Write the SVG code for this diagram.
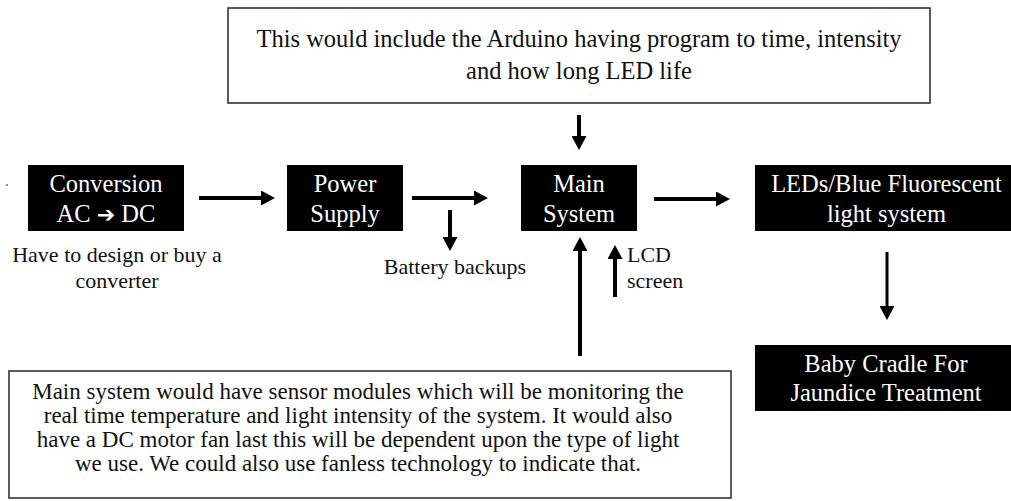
<svg xmlns="http://www.w3.org/2000/svg" width="1011" height="501" viewBox="0 0 1011 501">
<style>
  .blk { fill: #000; }
  .wbox { fill: #fff; stroke: #333; stroke-width: 1.6; }
  .lbl { font-family: "Liberation Serif", "Times New Roman", serif; font-size: 24.5px; fill: #fff; text-anchor: middle; }
  .note { font-family: "Liberation Serif", "Times New Roman", serif; font-size: 22px; fill: #111; text-anchor: middle; }
  .top { font-family: "Liberation Serif", "Times New Roman", serif; font-size: 24.5px; fill: #111; text-anchor: middle; }
  .bot { font-family: "Liberation Serif", "Times New Roman", serif; font-size: 23px; fill: #111; text-anchor: middle; }
  .sym { font-family: "DejaVu Sans", sans-serif; font-size: 22px; font-weight: bold; }
  .arr { stroke: #000; stroke-width: 4; fill: none; marker-end: url(#ah); }
  .arr2 { stroke: #000; stroke-width: 3; fill: none; marker-end: url(#ah); }
</style>
<defs>
  <marker id="ah" markerUnits="userSpaceOnUse" markerWidth="14" markerHeight="15" refX="1" refY="7.5" orient="auto">
    <path d="M0,0 L14,7.5 L0,15 z" fill="#000"/>
  </marker>
</defs>
<rect width="1011" height="501" fill="#fff"/>
<circle cx="7" cy="185" r="1" fill="#666"/>

<g id="connectors">
  <line class="arr" x1="199" y1="198" x2="262" y2="198"/>
  <line class="arr" x1="412" y1="198" x2="475" y2="198"/>
  <line class="arr" x1="450" y1="210" x2="450" y2="238"/>
  <line class="arr" x1="654" y1="199" x2="717" y2="199"/>
  <line class="arr" x1="579" y1="115" x2="579" y2="137"/>
  <line class="arr" x1="580" y1="356" x2="580" y2="250"/>
  <line class="arr" x1="615" y1="297" x2="615" y2="258"/>
  <line class="arr2" x1="887" y1="252" x2="887" y2="307"/>
</g>

<g id="top-note">
  <rect class="wbox" x="228" y="8" width="702" height="95"/>
  <text class="top" x="579" y="47">This would include the Arduino having program to time, intensity</text>
  <text class="top" x="579" y="79">and how long LED life</text>
</g>

<g id="conversion">
  <rect class="blk" x="28" y="165" width="156" height="66"/>
  <text class="lbl" x="106" y="192">Conversion</text>
  <text class="lbl" x="106" y="222">AC <tspan class="sym">➔</tspan> DC</text>
</g>
<g id="conversion-note">
  <text class="note" x="117" y="262">Have to design or buy a</text>
  <text class="note" x="117" y="288">converter</text>
</g>

<g id="power-supply">
  <rect class="blk" x="287" y="165" width="116" height="66"/>
  <text class="lbl" x="345" y="192">Power</text>
  <text class="lbl" x="345" y="222">Supply</text>
</g>
<g id="battery">
  <text class="note" x="455" y="274">Battery backups</text>
</g>

<g id="main-system">
  <rect class="blk" x="521" y="165" width="116" height="66"/>
  <text class="lbl" x="579" y="192">Main</text>
  <text class="lbl" x="579" y="222">System</text>
</g>
<g id="lcd">
  <text class="note" x="627" y="262" style="text-anchor:start">LCD</text>
  <text class="note" x="627" y="288" style="text-anchor:start">screen</text>
</g>

<g id="leds">
  <rect class="blk" x="755" y="165" width="263" height="66"/>
  <text class="lbl" x="886.5" y="192">LEDs/Blue Fluorescent</text>
  <text class="lbl" x="886.5" y="222">light system</text>
</g>

<g id="baby-cradle">
  <rect class="blk" x="755" y="345" width="263" height="66"/>
  <text class="lbl" x="886" y="372">Baby Cradle For</text>
  <text class="lbl" x="886" y="401">Jaundice Treatment</text>
</g>

<g id="bottom-note">
  <rect class="wbox" x="9" y="371" width="722" height="127"/>
  <text class="bot" x="358" y="399">Main system would have sensor modules which will be monitoring the</text>
  <text class="bot" x="358" y="423">real time temperature and light intensity of the system. It would also</text>
  <text class="bot" x="358" y="447">have a DC motor fan last this will be dependent upon the type of light</text>
  <text class="bot" x="358" y="471">we use. We could also use fanless technology to indicate that.</text>
</g>
</svg>
